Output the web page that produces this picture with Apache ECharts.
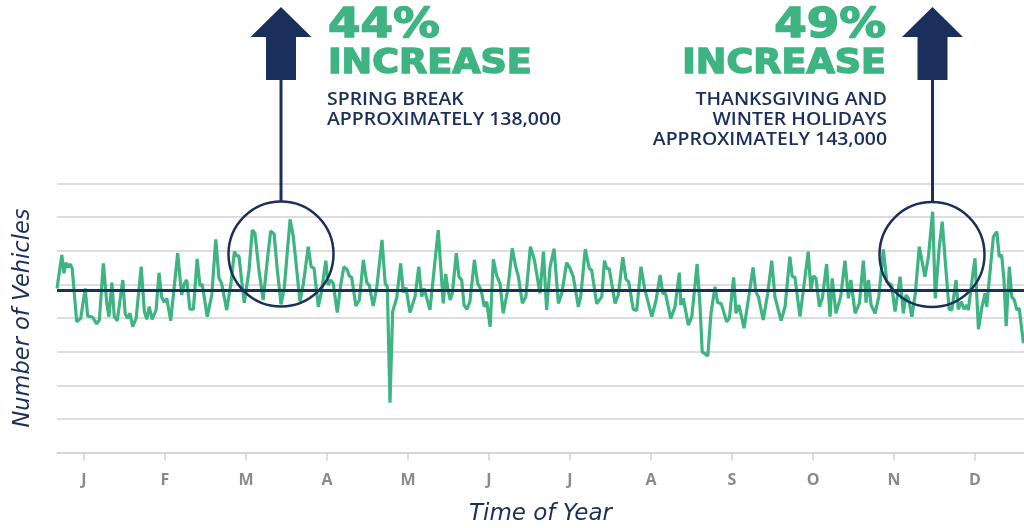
<!DOCTYPE html>
<html>
<head>
<meta charset="utf-8">
<title>Number of Vehicles</title>
<script src="https://cdn.jsdelivr.net/npm/echarts@6/dist/echarts.min.js"></script>
<style>
  html, body { margin: 0; padding: 0; background: #fff; }
  #chart { width: 1024px; height: 528px; }
</style>
</head>
<body>
<div id="chart"></div>
<script>
// day of year (at the line's turning points)
var days = [
  0, 1.8, 2.6, 3.4, 4.2, 4.9, 5.7, 7.4, 8.9, 10.6, 11.5, 13.4, 14.9, 15.9, 17.4, 18.7, 19.5, 20.6, 21.5, 22.6,
  24.7, 25.6, 26.5, 27.4, 28.4, 29.7, 31.6, 32.8, 33.7, 34.6, 35.7, 37.2, 38.3, 39.3, 40.2, 41.2, 42.7, 45.3,
  46.8, 47.8, 48.7, 49.9, 51.2, 52.6, 53.7, 54.5, 56.4, 58.1, 59.6, 60.8, 61.8, 63.7, 65.3, 66.6, 67.5, 68.3,
  69.3, 70.3, 72.1, 73.3, 74.3, 75.8, 77.4, 79.1, 80.2, 81.5, 82.7, 84.1, 85.3, 87.5, 88.7, 90, 91.2,
  92.5, 94.3, 95.4, 96.5, 98.1, 99.4, 100.9, 101.8, 102.7, 103.7, 105.2, 106.5, 107.7, 109, 109.7, 110.6,
  112.2, 113.5, 115, 116.3, 117.2, 118.7, 120, 122, 123.2, 124, 125, 126, 127.5, 129, 130, 131, 132.5,
  134.4, 135.8, 136.9, 137.8, 140, 143.1, 145, 145.9, 146.7, 147.6, 148.4, 149.9, 150.9, 151.9, 152.8,
  153.9, 155, 156.7, 157.9, 159.2, 160.4, 161.3, 162.6, 163.8, 165.1, 166.3, 167.5, 169.2, 170.9, 172.2,
  173.2, 174.7, 176, 177.7, 179.2, 181.3, 182.6, 183.8, 185.1, 186.6, 188.2, 189.5, 191.3, 192.6, 193.8,
  195.7, 196.6, 198.3, 199.8, 200.7, 202.6, 204.5, 205.5, 206.4, 207.3, 209.5, 210.7, 212.4, 213.6, 214.6,
  216.3, 217.6, 219.2, 220.7, 223.3, 224.9, 226.4, 227.4, 228.4, 230.4, 232, 233.6, 234.2, 235.1, 237,
  238.3, 240.3, 241.4, 242.2, 244.3, 245.5, 247, 248, 249.3, 251.4, 252.4, 254, 254.9, 256, 257.9, 259.5,
  261.3, 262.3, 263.3, 265.1, 266.8, 268.3, 269.5, 271.8, 273.3, 275.1, 276, 277, 278.9, 280.5, 282, 283,
  283.9, 284.9, 286.2, 287.3, 288.9, 290.2, 291, 292.4, 294.2, 295.8, 297.1, 298, 299.6, 301.2, 302.7,
  303.7, 304.6, 305.6, 307.1, 308.5, 310.2, 311.5, 313.3, 314.6, 316.5, 317.7, 318.7, 319.6, 320.9, 322.2,
  323.7, 325.8, 327.1, 328.7, 329.7, 331.2, 332.3, 333.7, 334.9, 335.9, 337.5, 338.3, 339.5, 340.5, 341.5,
  342.1, 344, 344.6, 345.9, 347.1, 348.4, 349, 351.5, 352.8, 353.7, 354.6, 355.5, 356.3, 357.5, 358.4,
  359.4, 360.3, 361.2, 362.8
];

// vehicles, in thousands, same order as days
var vehicles = [
  97.6, 117.5, 106.6, 112.9, 110.1, 112.1, 109.5, 77.8, 79.8, 97.6, 81.2, 80.4, 76.5, 78.8, 112.5, 88.7, 80.8, 101, 80.8, 78.4,
  102.6, 82.4, 79.8, 82.8, 74.8, 79.8, 110.5, 83.8, 79.2, 86.7, 79.2, 84.8, 106.9, 92.3, 89.5, 91.7, 78.4, 118.5,
  93.7, 100.6, 102.6, 85.2, 85.2, 115.1, 99, 100.2, 80.8, 93.7, 126.8, 103.6, 100.6, 84.8, 100.6, 119.5, 116.9, 116.9,
  102.6, 89.1, 108.6, 132.3, 130.4, 108.6, 90.7, 116.5, 131.7, 130, 108.6, 88.1, 97.6, 138.7, 128.4, 108.6, 89.7,
  100.6, 122.4, 110.5, 109.5, 86.7, 96.7, 114.1, 99.6, 102.6, 100.6, 83.2, 99.6, 110.5, 108.6, 105, 104.2,
  87.1, 90.7, 114.5, 101, 99.6, 87.1, 97.6, 126.4, 100.6, 98.6, 29.6, 83.8, 91.7, 112.5, 95.1, 98.2, 83.2,
  92.7, 110.5, 92.7, 97.6, 84.8, 132.3, 88.7, 106.2, 97.6, 90.7, 94.7, 118.5, 104.6, 102.6, 87.7,
  85.2, 89.7, 114.5, 100.6, 96.7, 86.7, 89.7, 74.8, 114.9, 105, 100.6, 82.8, 96.7, 121.4, 110.5,
  104.6, 88.7, 92.7, 122.4, 114.5, 94.7, 119.5, 84.8, 110.5, 121.2, 88.7, 94.7, 112.9, 109.5, 104.6,
  86.7, 92.7, 121, 109.5, 108.5, 88.4, 92.7, 114.1, 109.5, 109.3, 88.7, 93.7, 116.1, 103, 101.6,
  85.2, 84.4, 110.5, 96.7, 80.8, 90.7, 105.6, 94.7, 94.7, 79.8, 86.7, 107, 87.7, 91.7, 75.8,
  80.8, 112.1, 86.7, 60, 57.4, 82.8, 98.6, 89.1, 88.7, 77.8, 79.8, 104.2, 82.8, 87.7, 73.9, 90.7,
  110.1, 95.7, 92.7, 78.8, 94.7, 114.1, 92.7, 78.4, 86.7, 116.5, 104.6, 104.2, 80.8, 100.6, 119.5, 96.7,
  105, 103.6, 86.7, 91.7, 112.1, 80.8, 103.6, 82.8, 92.7, 114.1, 91.7, 102.6, 82.8, 88.7, 114.1,
  89.1, 102.6, 87.7, 82.8, 92.7, 120.8, 101.6, 99.6, 83.8, 104.6, 82.8, 93.7, 91.7, 80.8, 94.7,
  122.4, 104.6, 116.1, 143.2, 91.7, 122.4, 137.3, 108.6, 85.2, 84.8, 102.6, 85.2, 89.7, 85.2, 87.7,
  84.8, 108.6, 115.5, 73.3, 85.7, 94.7, 86.7, 128.4, 131.3, 116.5, 117.5, 102.6, 75.2, 110.5, 92.7,
  90.7, 84.8, 85.7, 65
];

var months = ['J', 'F', 'M', 'A', 'M', 'J', 'J', 'A', 'S', 'O', 'N', 'D'];
var yTicks = [0, 20, 40, 60, 80, 100, 120, 140, 160];
var average = 96.5;

var navy = '#1b2f5c';
var green = '#3db482';
var gridGray = '#d2d2d2';

var lineData = days.map(function (d, i) { return [d, vehicles[i]]; });

var bigFont = 'bold 41px "DejaVu Sans"';
var midFont = 'bold 34.5px "DejaVu Sans"';
var smallFont = '600 18px "Open Sans"';

var options = {
  animation: false,
  grid: [
    { left: 57, right: 0, top: 183.5, bottom: 75.5, containLabel: false, outerBoundsMode: 'none' },
    // only carries the month labels, centred on the ticks
    { left: 43.5, right: 8.5, top: 183.5, bottom: 75.5, containLabel: false, outerBoundsMode: 'none' }
  ],
  xAxis: [{
    type: 'value',
    gridIndex: 0,
    min: 0,
    max: 363,
    axisLine: { show: true, lineStyle: { color: gridGray, width: 1.5 } },
    axisTick: { show: false },
    axisLabel: { show: false },
    splitLine: { show: false },
    name: 'Time of Year',
    nameLocation: 'middle',
    nameGap: 50,
    nameTextStyle: { color: navy, fontSize: 23, fontStyle: 'italic', fontFamily: 'DejaVu Sans' }
  }, {
    type: 'category',
    gridIndex: 1,
    data: months,
    boundaryGap: true,
    axisLine: { show: false },
    axisTick: { show: true, alignWithLabel: true, length: 8, lineStyle: { color: gridGray, width: 1.5 } },
    axisLabel: { margin: 20, color: '#8a8a8a', fontSize: 16, fontWeight: 'bold', fontFamily: 'Open Sans' },
    splitLine: { show: false }
  }],
  yAxis: [{
    type: 'value',
    gridIndex: 0,
    min: yTicks[0],
    max: yTicks[yTicks.length - 1],
    interval: 20,
    axisLine: { show: false },
    axisTick: { show: false },
    axisLabel: { show: false },
    splitLine: { show: true, lineStyle: { color: gridGray, width: 1.5 } },
    name: 'Number of Vehicles',
    nameLocation: 'middle',
    nameRotate: 90,
    nameGap: 22,
    nameTextStyle: { color: navy, fontSize: 22.5, fontStyle: 'italic', fontFamily: 'DejaVu Sans' }
  }, {
    type: 'value',
    gridIndex: 1,
    show: false
  }],
  series: [{
    type: 'line',
    xAxisIndex: 0,
    yAxisIndex: 0,
    data: lineData,
    showSymbol: false,
    lineStyle: { color: green, width: 3.2 },
    markLine: {
      silent: true,
      symbol: 'none',
      label: { show: false },
      lineStyle: { color: navy, width: 3, type: 'solid' },
      data: [{ yAxis: average }]
    }
  }],
  graphic: [
    // spring break callout
    { type: 'circle', shape: { cx: 281, cy: 254, r: 52.5 }, style: { fill: 'none', stroke: navy, lineWidth: 2.5 }, z: 10 },
    { type: 'line', shape: { x1: 281, y1: 78, x2: 281, y2: 202 }, style: { stroke: navy, lineWidth: 3 }, z: 10 },
    { type: 'rect', shape: { x: 266, y: 36, width: 30, height: 44 }, style: { fill: navy }, z: 10 },
    { type: 'polygon', shape: { points: [[250.5, 37], [281, 7], [311.5, 37]] }, style: { fill: navy }, z: 10 },
    { type: 'text', x: 328, y: 6, scaleX: 1.14, style: { text: '44%', fill: green, stroke: green, lineWidth: 1.5, font: bigFont }, z: 10 },
    { type: 'text', x: 328, y: 47, scaleX: 1.06, style: { text: 'INCREASE', fill: green, stroke: green, lineWidth: 1.5, font: midFont }, z: 10 },
    { type: 'text', x: 327, y: 90, scaleX: 1.08, style: { text: 'SPRING BREAK\nAPPROXIMATELY 138,000', fill: navy, font: smallFont, lineHeight: 20 }, z: 10 },

    // holidays callout
    { type: 'circle', shape: { cx: 932, cy: 254.5, r: 52.5 }, style: { fill: 'none', stroke: navy, lineWidth: 2.5 }, z: 10 },
    { type: 'line', shape: { x1: 932.5, y1: 78, x2: 932.5, y2: 202 }, style: { stroke: navy, lineWidth: 3 }, z: 10 },
    { type: 'rect', shape: { x: 917.5, y: 36, width: 30, height: 44 }, style: { fill: navy }, z: 10 },
    { type: 'polygon', shape: { points: [[902, 37], [932.5, 7], [963, 37]] }, style: { fill: navy }, z: 10 },
    { type: 'text', x: 886, y: 6, scaleX: 1.14, style: { text: '49%', fill: green, stroke: green, lineWidth: 1.5, font: bigFont, align: 'right' }, z: 10 },
    { type: 'text', x: 886, y: 47, scaleX: 1.06, style: { text: 'INCREASE', fill: green, stroke: green, lineWidth: 1.5, font: midFont, align: 'right' }, z: 10 },
    { type: 'text', x: 887, y: 90, scaleX: 1.08, style: { text: 'THANKSGIVING AND\nWINTER HOLIDAYS\nAPPROXIMATELY 143,000', fill: navy, font: smallFont, lineHeight: 20, align: 'right' }, z: 10 }
  ]
};

var myChart = echarts.init(document.getElementById('chart'));
myChart.setOption(options);
</script>
</body>
</html>
